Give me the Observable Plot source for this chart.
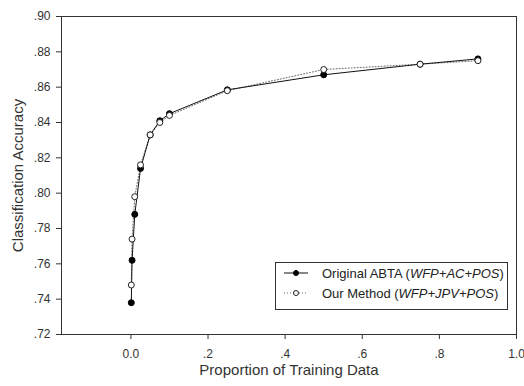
<!DOCTYPE html>
<html>
<head>
<meta charset="utf-8">
<script src="https://cdn.jsdelivr.net/npm/d3@7"></script>
<script src="https://cdn.jsdelivr.net/npm/@observablehq/plot@0.6"></script>
<style>
  html, body { margin: 0; padding: 0; background: #fff; }
  #wrap { position: relative; width: 524px; height: 386px; font-family: "Liberation Sans", Arial, sans-serif; }
  #legend { position: absolute; left: 275px; top: 262px; width: 233px; height: 48px; border: 1px solid #333; background: #fff; box-sizing: border-box; font-size: 13px; color: #222; }
  .row { position: absolute; left: 0; height: 16px; display: flex; align-items: center; white-space: nowrap; }
  .row svg { display: block; margin-right: 14px; }
</style>
</head>
<body>
<div id="wrap"></div>
<script>
// Data
const proportion = [0.001, 0.003, 0.01, 0.025, 0.05, 0.075, 0.1, 0.25, 0.5, 0.75, 0.9];
const originalABTA = [0.738, 0.762, 0.788, 0.814, 0.833, 0.841, 0.845, 0.8585, 0.867, 0.873, 0.876];
const ourMethod   = [0.748, 0.774, 0.798, 0.816, 0.833, 0.840, 0.844, 0.858, 0.870, 0.873, 0.875];
const xTicks = [0, 0.2, 0.4, 0.6, 0.8, 1.0];
const yTicks = [0.72, 0.74, 0.76, 0.78, 0.80, 0.82, 0.84, 0.86, 0.88, 0.90];
const seriesNames = ["Original ABTA", "Our Method"];
const seriesTags = ["WFP+AC+POS", "WFP+JPV+POS"];

const orig = proportion.map((p, i) => ({x: p, y: originalABTA[i]}));
const ours = proportion.map((p, i) => ({x: p, y: ourMethod[i]}));

const fmtX = d => d === 0 ? "0.0" : d === 1 ? "1.0" : d3.format(".1f")(d).replace(/^0/, "");
const fmtY = d => d3.format(".2f")(d).replace(/^0/, "");

const chart = Plot.plot({
  width: 524,
  height: 386,
  marginLeft: 61,
  marginRight: 8,
  marginTop: 16,
  marginBottom: 52,
  style: {fontFamily: "Liberation Sans, Arial, sans-serif", fontSize: "12px", color: "#333", background: "#fff"},
  x: {domain: [-0.18, 1.0]},
  y: {domain: [0.72, 0.90]},
  marks: [
    Plot.frame({stroke: "#333", strokeWidth: 1}),
    Plot.axisX({ticks: xTicks, tickFormat: fmtX, tickSize: 5, tickPadding: 10, stroke: "#333",
      label: "Proportion of Training Data", labelAnchor: "center", labelArrow: "none", labelOffset: 40}),
    Plot.axisY({ticks: yTicks, tickFormat: fmtY, tickSize: 5, tickPadding: 6, stroke: "#333",
      label: "Classification Accuracy", labelAnchor: "center", labelArrow: "none", labelOffset: 49}),
    Plot.line(ours, {x: "x", y: "y", stroke: "#666", strokeWidth: 1, strokeDasharray: "1,2"}),
    Plot.line(orig, {x: "x", y: "y", stroke: "#111", strokeWidth: 1}),
    Plot.dot(orig, {x: "x", y: "y", r: 3, fill: "#000", stroke: "#000", strokeWidth: 1}),
    Plot.dot(ours, {x: "x", y: "y", r: 3, fill: "#fff", stroke: "#222", strokeWidth: 1})
  ]
});
chart.querySelectorAll("g[aria-label='x-axis label'] text, g[aria-label='y-axis label'] text").forEach(t => t.setAttribute("font-size", "15px"));
document.getElementById("wrap").appendChild(chart);

// Legend
const legend = document.createElement("div");
legend.id = "legend";
const samples = [
  `<svg width="24" height="10"><line x1="0" y1="5" x2="24" y2="5" stroke="#111" stroke-width="1"/><circle cx="12" cy="5" r="2.5" fill="#000" stroke="#000"/></svg>`,
  `<svg width="24" height="10"><line x1="0" y1="5" x2="24" y2="5" stroke="#666" stroke-width="1" stroke-dasharray="1,2"/><circle cx="12" cy="5" r="2.5" fill="#fff" stroke="#222"/></svg>`
];
seriesNames.forEach((name, i) => {
  const row = document.createElement("div");
  row.className = "row";
  row.style.left = "8px";
  row.style.top = (i === 0 ? 2 : 22) + "px";
  row.innerHTML = samples[i] + `<span>${name} (<i>${seriesTags[i]}</i>)</span>`;
  legend.appendChild(row);
});
document.getElementById("wrap").appendChild(legend);
</script>
</body>
</html>
